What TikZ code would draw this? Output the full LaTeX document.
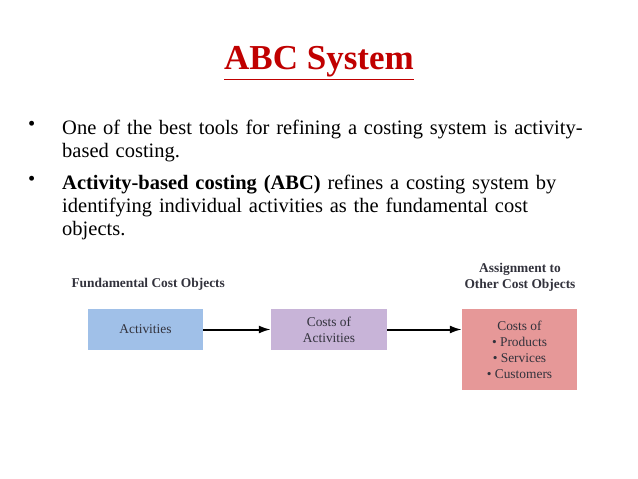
\documentclass[tikz,border=0pt]{standalone}
\usepackage{fontspec}
\setmainfont{Liberation Serif}
\usetikzlibrary{arrows.meta}
\definecolor{tred}{RGB}{192,0,0}
\definecolor{bblue}{RGB}{160,192,232}
\definecolor{bpurp}{RGB}{200,180,216}
\definecolor{bpink}{RGB}{230,152,152}
\definecolor{dtext}{RGB}{50,50,60}
\tikzset{
 box/.style={fill=#1,draw=none,inner sep=0},
 dtxt/.style={font=\fontsize{13.4}{16}\selectfont,text=dtext,align=center},
 bul/.style={anchor=north west,inner sep=0,font=\fontsize{20.5}{23}\selectfont},
 body/.style={anchor=north west,align=left,text width=#1,font=\fontsize{20.5}{23}\selectfont\raggedright,inner sep=0},
 conn/.style={line width=2pt,-{Latex[length=12pt,width=8pt]}}
}
\begin{document}
\begin{tikzpicture}[x=1pt,y=-1pt]
\useasboundingbox (0,0) rectangle (638,479);
\node[text=tred,font=\fontsize{35}{38}\selectfont\bfseries] (title) at (319,63) {\underline{ABC System}};
\node[bul] (b1) at (28,121) {•};
\node[body=560pt] (t1) at (62,120) {One of the best tools for refining a costing system is activity-\\based costing.};
\node[bul] (b2) at (28,176) {•};
\node[body=560pt] (t2) at (62,175) {\textbf{Activity-based costing (ABC)} refines a costing system by\\identifying individual activities as the fundamental cost\\objects.};
\node[dtxt,anchor=west] (fco) at (68,284) {\textbf{Fundamental Cost Objects}};
\node[dtxt] (aoc) at (520,277) {\textbf{Assignment to}\\\textbf{Other Cost Objects}};
\node[box=bblue,minimum width=115pt,minimum height=41pt,dtxt] (act) at (145.5,329.5) {Activities};
\node[box=bpurp,minimum width=116pt,minimum height=41pt,dtxt] (coa) at (329,329.5) {Costs of\\Activities};
\node[box=bpink,minimum width=115pt,minimum height=81pt,dtxt] (cot) at (519.5,349.5) {Costs of\\• Products\\• Services\\• Customers};
\draw[conn] (act.east) -- (coa.west);
\draw[conn] (coa.east) -- (act.east -| cot.west);
\end{tikzpicture}
\end{document}
